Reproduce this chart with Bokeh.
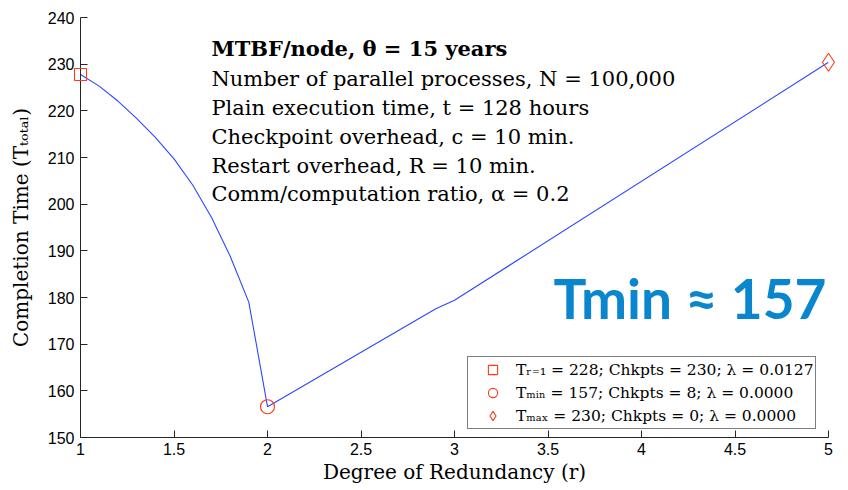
from bokeh.plotting import figure
from bokeh.models import (Range1d, FixedTicker, NumeralTickFormatter, Label,
                          Legend, LegendItem)
from bokeh.embed import file_html
from bokeh.resources import INLINE

# ---- data ----
r_vals = [1.0, 1.1, 1.2, 1.3, 1.4, 1.5, 1.6, 1.7, 1.8, 1.9, 2.0, 2.9, 3.0, 5.0]
T_vals = [227.8, 225.3, 222.1, 218.4, 214.3, 209.7, 204.1, 197.2, 188.9, 179.0,
          156.6, 177.6, 179.4, 230.4]

r1_pt = [1.0]
r1_T = [227.8]
min_pt = [2.0]
min_T = [156.6]
max_pt = [5.0]
max_T = [230.4]

legend_labels = [
    "Tᵣ₌₁ = 228; Chkpts = 230; λ = 0.0127",
    "Tₘᵢₙ = 157; Chkpts = 8; λ = 0.0000",
    "Tₘₐₓ = 230; Chkpts = 0; λ = 0.0000",
]

info_lines = [
    "MTBF/node, θ = 15 years",
    "Number of parallel processes, N = 100,000",
    "Plain execution time, t = 128 hours",
    "Checkpoint overhead, c = 10 min.",
    "Restart overhead, R = 10 min.",
    "Comm/computation ratio, α = 0.2",
]
info_y = [233.4, 226.9, 220.7, 214.4, 208.2, 202.1]
info_x = 1.70

big_text = "Tmin ≈ 157"
big_x = 3.53
big_y = 180.0

x_ticks = [1, 1.5, 2, 2.5, 3, 3.5, 4, 4.5, 5]
y_ticks = [150, 160, 170, 180, 190, 200, 210, 220, 230, 240]

SERIF = "DejaVu Serif"
SANS = "Liberation Sans"
AX = "#262626"
BLUE = "#2a48ff"
RED = "#ff3a1a"

p = figure(width=848, height=490, output_backend="svg", toolbar_location=None,
           x_range=Range1d(1, 5), y_range=Range1d(150, 240),
           min_border_left=80, min_border_top=17, min_border_right=20,
           min_border_bottom=53)
p.outline_line_color = None
p.xgrid.visible = False
p.ygrid.visible = False
p.background_fill_color = "white"
p.border_fill_color = "white"

for ax in (p.xaxis[0], p.yaxis[0]):
    ax.axis_line_color = AX
    ax.major_tick_line_color = AX
    ax.minor_tick_line_color = None
    ax.major_tick_in = 7
    ax.major_tick_out = 0
    ax.major_label_text_font = SANS
    ax.major_label_text_font_size = "16px"
    ax.major_label_text_color = "black"
    ax.axis_label_text_font = SERIF
    ax.axis_label_text_font_size = "20px"
    ax.axis_label_text_font_style = "normal"
    ax.axis_label_text_color = "black"

p.xaxis.ticker = FixedTicker(ticks=x_ticks)
p.yaxis.ticker = FixedTicker(ticks=y_ticks)
p.xaxis.formatter = NumeralTickFormatter(format="0.[0]")
p.yaxis.formatter = NumeralTickFormatter(format="0")
p.xaxis.axis_label = "Degree of Redundancy (r)"
p.yaxis.axis_label = "Completion Time (Tₜₒₜₐₗ)"
p.xaxis.major_label_standoff = 5
p.xaxis.axis_label_standoff = 2
p.yaxis.major_label_standoff = 6
p.yaxis.axis_label_standoff = 12

p.line(r_vals, T_vals, line_color=BLUE, line_width=1.1)
s1 = p.scatter(r1_pt, r1_T, marker="square", size=12, fill_color=None,
               line_color=RED, line_width=1.1, level="overlay")
s2 = p.scatter(min_pt, min_T, marker="circle", size=14, fill_color=None,
               line_color=RED, line_width=1.1, level="overlay")
s3 = p.scatter(max_pt, max_T, marker="diamond", size=18, fill_color=None,
               line_color=RED, line_width=1.1, level="overlay")

for i, (txt, yy) in enumerate(zip(info_lines, info_y)):
    p.add_layout(Label(x=info_x, y=yy, text=txt, text_font=SERIF,
                       text_font_size="21px", text_baseline="middle",
                       text_font_style="bold" if i == 0 else "normal",
                       text_color="black"))

p.add_layout(Label(x=big_x, y=big_y, text=big_text, text_font="Lato",
                   text_font_size="55px", text_font_style="bold",
                   text_color="#0a86cf", text_baseline="middle"))

legend = Legend(items=[LegendItem(label=legend_labels[0], renderers=[s1]),
                       LegendItem(label=legend_labels[1], renderers=[s2]),
                       LegendItem(label=legend_labels[2], renderers=[s3])],
                location=(387, 8), padding=1, spacing=0,
                glyph_width=47, glyph_height=23, label_height=20,
                label_standoff=0,
                label_text_font=SERIF, label_text_font_size="15.5px",
                label_text_color="black",
                border_line_color="black", border_line_width=1,
                background_fill_alpha=1.0)
p.add_layout(legend, "center")

open("out.html", "w").write(file_html(p, INLINE))
